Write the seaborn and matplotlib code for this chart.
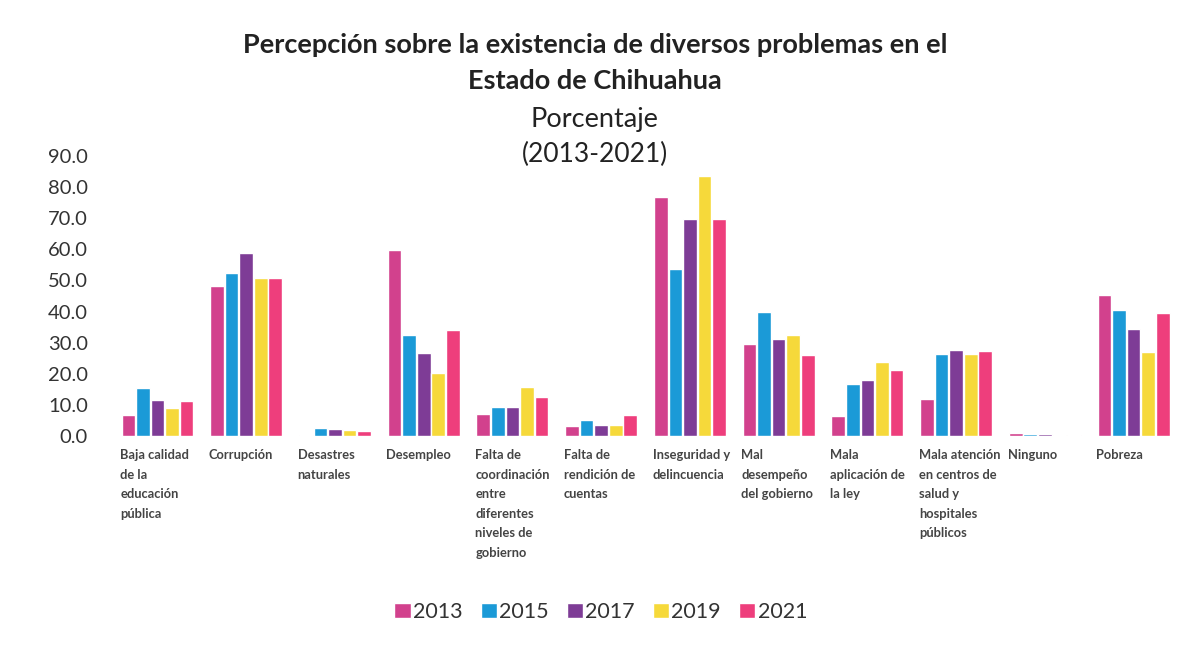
import numpy as np
import pandas as pd
import matplotlib
matplotlib.use("Agg")
import matplotlib.pyplot as plt
import seaborn as sns

categories = [
    "Baja calidad\nde la\neducación\npública",
    "Corrupción",
    "Desastres\nnaturales",
    "Desempleo",
    "Falta de\ncoordinación\nentre\ndiferentes\nniveles de\ngobierno",
    "Falta de\nrendición de\ncuentas",
    "Inseguridad y\ndelincuencia",
    "Mal\ndesempeño\ndel gobierno",
    "Mala\naplicación de\nla ley",
    "Mala atención\nen centros de\nsalud y\nhospitales\npúblicos",
    "Ninguno",
    "Pobreza",
]
years = ["2013", "2015", "2017", "2019", "2021"]

v2013 = [6.9, 48.2, 0.5, 59.7, 7.0, 3.1, 76.8, 29.5, 6.4, 12.0, 1.0, 45.2]
v2015 = [15.4, 52.5, 2.6, 32.6, 9.5, 5.3, 53.6, 39.9, 16.8, 26.5, 0.7, 40.6]
v2017 = [11.5, 58.8, 2.4, 26.7, 9.5, 3.5, 69.6, 31.3, 18.1, 27.8, 0.6, 34.3]
v2019 = [9.0, 50.8, 2.1, 20.4, 15.8, 3.6, 83.6, 32.4, 23.8, 26.5, 0.4, 27.0]
v2021 = [11.3, 50.8, 1.5, 34.0, 12.5, 6.7, 69.6, 25.9, 21.3, 27.2, 0.5, 39.4]

colors = ["#D2418D", "#1B9AD7", "#7E3C96", "#F6D93A", "#EE3E7C"]

series = [v2013, v2015, v2017, v2019, v2021]
df = pd.DataFrame({
    "categoria": np.tile(categories, len(years)),
    "anio": np.repeat(years, len(categories)),
    "valor": np.concatenate(series),
})

sns.set_theme(style="white")
plt.rcParams["font.family"] = ["Lato", "DejaVu Sans"]

fig = plt.figure(figsize=(11.78, 6.49), dpi=100)
ax = fig.add_axes([0.096, 0.328, 0.904, 0.432])

sns.barplot(data=df, x="categoria", y="valor", hue="anio", order=categories,
            hue_order=years, palette=colors, width=0.82, gap=0.06,
            saturation=1, ax=ax, legend=True)

ax.set_xlim(-0.5, 11.5)
ax.set_ylim(0, 90)
ticks = np.arange(0, 91, 10)
ax.set_yticks(ticks)
ax.set_yticklabels([f"{t:.1f}" for t in ticks], fontsize=14.5, color="#333333")
ax.tick_params(axis="y", length=0, pad=18)
ax.set_xticks([])
ax.set_xlabel("")
ax.set_ylabel("")
for s in ax.spines.values():
    s.set_visible(False)

# category labels, left-aligned at the left edge of each group
for i, lab in enumerate(categories):
    ax.text(i - 0.42, -0.046, lab, transform=ax.get_xaxis_transform(),
            ha="left", va="top", fontsize=9.3, fontweight="bold",
            color="#444444", linespacing=1.76)

# titles
fig.text(0.505, 0.930, "Percepción sobre la existencia de diversos problemas en el",
         ha="center", va="center", fontsize=19.5, fontweight="bold", color="#222222")
fig.text(0.505, 0.875, "Estado de Chihuahua", ha="center", va="center",
         fontsize=19.5, fontweight="bold", color="#222222")
fig.text(0.505, 0.816, "Porcentaje", ha="center", va="center",
         fontsize=19.5, color="#222222")
fig.text(0.505, 0.762, "(2013-2021)", ha="center", va="center",
         fontsize=19, color="#222222")

handles, labels = ax.get_legend_handles_labels()
ax.get_legend().remove()
fig.legend(handles, labels, loc="center", bbox_to_anchor=(0.51, 0.057), ncol=5,
           frameon=False, fontsize=15.5, handlelength=0.75, handleheight=0.75,
           handletextpad=0.1, columnspacing=0.85, labelcolor="#333333")

fig.savefig("out.png", dpi=100, facecolor="white")
